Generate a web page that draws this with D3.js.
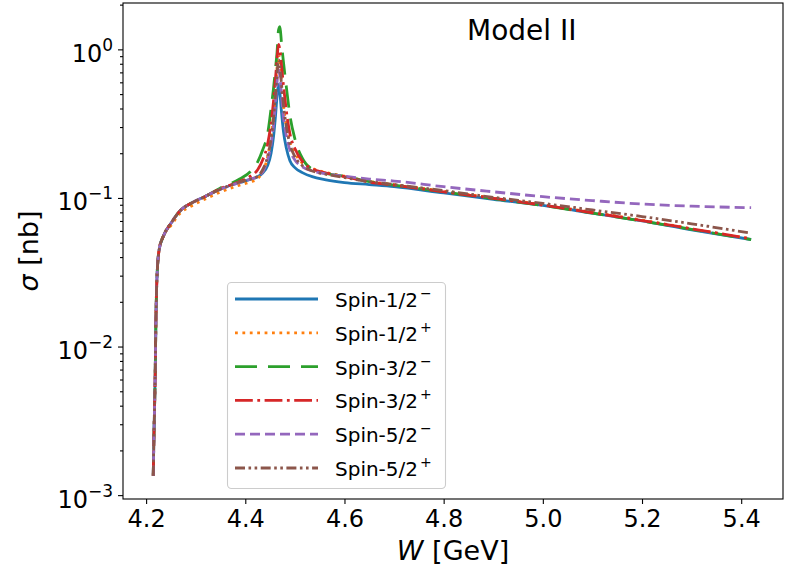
<!DOCTYPE html>
<meta charset="utf-8">
<style>
body { margin: 0; background: #fff; }
text { font-family: "DejaVu Sans", sans-serif; fill: #000; }
.axis path, .axis line { stroke: #000; stroke-width: 1.1; }
.curve { fill: none; stroke-width: 2.8; }
</style>
<body>
<svg width="787" height="573"></svg>
<script src="https://d3js.org/d3.v7.min.js"></script>
<script>

// W grid [GeV], shared by all curves
var W = [4.2144, 4.2157, 4.2171, 4.2184, 4.2197, 4.2211, 4.2224, 4.2264, 4.2345, 4.2512,
         4.2700, 4.2881, 4.3182, 4.3484, 4.3886, 4.4100, 4.4250, 4.4350, 4.4450, 4.4520,
         4.4570, 4.4610, 4.4640, 4.4670, 4.4700, 4.4730, 4.4770, 4.4830, 4.4900, 4.5000,
         4.5150, 4.5350, 4.5600, 4.6000, 4.6500, 4.7000, 4.8000, 4.9000, 5.0000, 5.1000,
         5.2000, 5.3000, 5.4200];

// sigma [nb]
var spin12m = [0.00135, 0.0024, 0.0040, 0.0067, 0.0146, 0.0243, 0.0316, 0.0450, 0.0550, 0.0684,
               0.0830, 0.0910, 0.1020, 0.1140, 0.1270, 0.133, 0.139, 0.147, 0.165, 0.20,
               0.26, 0.36, 0.48, 0.58, 0.50, 0.38, 0.28, 0.215, 0.178, 0.160,
               0.148, 0.139, 0.133, 0.127, 0.123, 0.119, 0.108, 0.098, 0.089, 0.079,
               0.070, 0.061, 0.0525];
var spin12p = [0.00135, 0.0024, 0.0040, 0.0067, 0.0146, 0.0243, 0.0316, 0.0450, 0.0550, 0.0660,
               0.080, 0.087, 0.098, 0.109, 0.122, 0.128, 0.135, 0.150, 0.19, 0.26,
               0.37, 0.54, 0.75, 0.92, 0.80, 0.60, 0.42, 0.30, 0.235, 0.20,
               0.172, 0.158, 0.149, 0.140, 0.129, 0.123, 0.111, 0.100, 0.090, 0.080,
               0.071, 0.062, 0.053];
var spin32m = [0.00135, 0.0024, 0.0040, 0.0067, 0.0146, 0.0243, 0.0316, 0.0450, 0.0550, 0.0684,
               0.0830, 0.0910, 0.1020, 0.116, 0.134, 0.150, 0.175, 0.21, 0.27, 0.40,
               0.55, 0.75, 0.95, 1.35, 1.42, 1.10, 0.82, 0.55, 0.36, 0.25,
               0.185, 0.156, 0.147, 0.140, 0.129, 0.122, 0.110, 0.099, 0.089, 0.079,
               0.070, 0.0615, 0.0525];
var spin32p = [0.00135, 0.0024, 0.0040, 0.0067, 0.0146, 0.0243, 0.0316, 0.0450, 0.0550, 0.0684,
               0.0830, 0.0910, 0.1020, 0.115, 0.129, 0.140, 0.155, 0.18, 0.23, 0.32,
               0.45, 0.64, 0.86, 1.08, 0.98, 0.78, 0.57, 0.38, 0.27, 0.215,
               0.176, 0.157, 0.148, 0.139, 0.128, 0.122, 0.110, 0.0995, 0.0895, 0.0795,
               0.0705, 0.062, 0.053];
var spin52m = [0.00135, 0.0024, 0.0040, 0.0067, 0.0146, 0.0243, 0.0316, 0.0450, 0.0550, 0.0684,
               0.0830, 0.0910, 0.1020, 0.1140, 0.127, 0.134, 0.139, 0.150, 0.18, 0.23,
               0.31, 0.44, 0.60, 0.73, 0.65, 0.49, 0.35, 0.26, 0.21, 0.18,
               0.162, 0.152, 0.146, 0.140, 0.134, 0.130, 0.119, 0.110, 0.102, 0.096,
               0.091, 0.088, 0.086];
var spin52p = [0.00135, 0.0024, 0.0040, 0.0067, 0.0146, 0.0243, 0.0316, 0.0450, 0.0550, 0.0684,
               0.0830, 0.0910, 0.1020, 0.1140, 0.128, 0.134, 0.140, 0.155, 0.19, 0.25,
               0.35, 0.50, 0.68, 0.85, 0.76, 0.58, 0.42, 0.30, 0.23, 0.19,
               0.165, 0.152, 0.145, 0.137, 0.129, 0.123, 0.112, 0.101, 0.092, 0.083,
               0.075, 0.067, 0.058];

var names = ["Spin-1/2", "Spin-1/2", "Spin-3/2", "Spin-3/2", "Spin-5/2", "Spin-5/2"];
var parities = ["\u2212", "+", "\u2212", "+", "\u2212", "+"];
var xTicks = [4.2, 4.4, 4.6, 4.8, 5.0, 5.2, 5.4];
var yTicks = [1e-3, 1e-2, 1e-1, 1];
var yTickExp = ["\u22123", "\u22122", "\u22121", "0"];

var series = [spin12m, spin12p, spin32m, spin32p, spin52m, spin52p];
var colors = ["#1f77b4", "#ff7f0e", "#2ca02c", "#d62728", "#9467bd", "#8c564b"];
var dashes = [null, "2.8,4.6", "22,11", "17.8,4.5,2.8,4.5", "10,5", "10,3.5,2.6,3.5,2.6,3.5"];

var svg = d3.select("svg"),
    plotL = 123, plotR = 783, plotT = 3, plotB = 499;

var x = d3.scaleLinear().domain([4.1534, 5.4843]).range([plotL, plotR]);
var y = d3.scaleLog().domain([Math.pow(10, -3.026), Math.pow(10, 0.312)]).range([plotB, plotT]);

svg.append("clipPath").attr("id", "clip")
  .append("rect").attr("x", plotL).attr("y", plotT).attr("width", plotR - plotL).attr("height", plotB - plotT);

var line = d3.line()
    .x(function(d, i) { return x(W[i]); })
    .y(function(d) { return y(d); })
    .curve(d3.curveMonotoneX);

var g = svg.append("g").attr("clip-path", "url(#clip)");
series.forEach(function(s, k) {
  g.append("path")
      .attr("class", "curve")
      .attr("d", line(s))
      .attr("stroke", colors[k])
      .attr("stroke-dasharray", dashes[k])
      .attr("stroke-linecap", "butt");
});

// x axis
var xAxis = svg.append("g").attr("class", "axis")
    .attr("transform", "translate(0," + plotB + ")")
    .call(d3.axisBottom(x).tickValues(xTicks).tickFormat(d3.format(".1f")).tickSizeInner(5).tickSizeOuter(0).tickPadding(6));
xAxis.selectAll("text").attr("font-size", 24).attr("font-family", "DejaVu Sans").attr("fill", "#000");
xAxis.select(".domain").remove();

// y axis: minor then major
var minor = y.ticks().filter(function(t) { return yTicks.indexOf(t) < 0; });
svg.append("g").attr("class", "axis")
    .attr("transform", "translate(" + plotL + ",0)")
    .call(d3.axisLeft(y).tickValues(minor).tickFormat("").tickSizeInner(3).tickSizeOuter(0))
    .select(".domain").remove();
var yAxis = svg.append("g").attr("class", "axis")
    .attr("transform", "translate(" + plotL + ",0)")
    .call(d3.axisLeft(y).tickValues(yTicks).tickFormat("").tickSizeInner(5).tickSizeOuter(0));
yAxis.select(".domain").remove();
yAxis.selectAll(".tick").append("text")
    .attr("x", -10).attr("dy", 12).attr("text-anchor", "end").attr("fill", "#000")
    .each(function(d, i) {
      var t = d3.select(this);
      t.append("tspan").attr("font-size", 24).text("10");
      t.append("tspan").attr("font-size", 17).attr("dy", -11).text(yTickExp[i]);
    });

// frame
svg.append("rect").attr("x", plotL).attr("y", plotT).attr("width", plotR - plotL).attr("height", plotB - plotT)
    .attr("fill", "none").attr("stroke", "#000").attr("stroke-width", 1.1);

// labels
svg.append("text").attr("x", (plotL + plotR) / 2).attr("y", 560).attr("text-anchor", "middle")
    .attr("font-size", 27)
    .call(function(t) {
      t.append("tspan").attr("font-style", "italic").text("W");
      t.append("tspan").text(" [GeV]");
    });
svg.append("text").attr("transform", "translate(38," + (plotT + plotB) / 2 + ") rotate(-90)")
    .attr("text-anchor", "middle").attr("font-size", 27)
    .call(function(t) {
      t.append("tspan").attr("font-style", "italic").text("\u03c3");
      t.append("tspan").text(" [nb]");
    });
svg.append("text").attr("x", 467).attr("y", 40).attr("font-size", 28).text("Model II");

// legend
var lg = svg.append("g");
lg.append("rect").attr("x", 227.5).attr("y", 282.5).attr("width", 218).attr("height", 206).attr("rx", 4)
    .attr("fill", "#fff").attr("fill-opacity", 0.8).attr("stroke", "#ccc").attr("stroke-width", 1.1);
series.forEach(function(s, k) {
  var yy = 299 + k * 33.8;
  lg.append("line").attr("x1", 235).attr("x2", 318).attr("y1", yy).attr("y2", yy)
      .attr("stroke", colors[k]).attr("stroke-width", 2.8).attr("stroke-dasharray", dashes[k]);
  var t = lg.append("text").attr("x", 335).attr("y", yy + 8).attr("font-size", 20);
  t.append("tspan").text(names[k]);
  t.append("tspan").attr("font-size", 14).attr("dx", 2).attr("dy", -9).text(parities[k]);
});

</script>
</body>
